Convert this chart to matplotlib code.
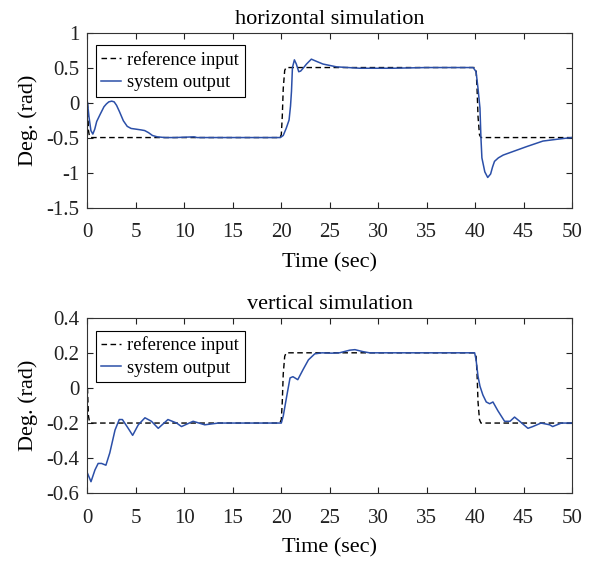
import matplotlib
matplotlib.use("Agg")
import matplotlib.pyplot as plt

# horizontal simulation
h_ref_t = [0, 0.05, 0.1, 0.2, 0.3, 19.85, 20.0, 20.1, 20.2, 20.35, 20.5, 39.95, 40.1, 40.2, 40.3, 40.45, 40.6, 50]
h_ref_y = [0, -0.2, -0.4, -0.48, -0.5, -0.5, -0.46, -0.2, 0.2, 0.46, 0.5, 0.5, 0.46, 0.2, -0.2, -0.46, -0.5, -0.5]
h_out_t = [0, 0.15, 0.35, 0.55, 0.75, 0.95, 1.3, 1.7, 1.95, 2.2, 2.5, 2.75, 3.0, 3.3, 3.7, 4.1, 4.5,
           5.0, 5.5, 5.9, 6.3, 6.7, 7.2, 8.0, 9.0, 11.0, 11.3, 15.0, 19.9, 20.2, 20.5, 20.8, 20.95,
           21.05, 21.15, 21.35, 21.55, 21.8, 22.0, 22.25, 22.6, 23.1, 23.6, 24.3, 25.7, 28.1, 31.5,
           35.0, 39.8, 40.1, 40.3, 40.5, 40.6, 40.7, 41.0, 41.3, 41.6, 41.8, 42.0, 42.4, 42.9, 43.9,
           45.3, 47.0, 48.7, 50]
h_out_y = [0, -0.2, -0.40, -0.45, -0.38, -0.27, -0.17, -0.06, -0.02, 0.01, 0.02, 0.01, -0.04, -0.13,
           -0.26, -0.34, -0.37, -0.38, -0.39, -0.40, -0.43, -0.47, -0.49, -0.50, -0.50, -0.49, -0.50,
           -0.50, -0.50, -0.47, -0.37, -0.25, -0.05, 0.16, 0.50, 0.61, 0.55, 0.44, 0.45, 0.49, 0.55,
           0.62, 0.59, 0.55, 0.51, 0.49, 0.49, 0.50, 0.50, 0.44, 0.2, -0.08, -0.5, -0.79, -0.99,
           -1.07, -1.02, -0.92, -0.84, -0.79, -0.75, -0.70, -0.63, -0.55, -0.52, -0.50]

# vertical simulation
v_ref_t = [0, 0.05, 0.1, 0.2, 0.3, 19.85, 20.0, 20.1, 20.2, 20.35, 20.5, 39.95, 40.1, 40.2, 40.3, 40.45, 40.6, 50]
v_ref_y = [0, -0.08, -0.16, -0.19, -0.2, -0.2, -0.18, -0.08, 0.08, 0.18, 0.2, 0.2, 0.18, 0.08, -0.08, -0.18, -0.2, -0.2]
v_out_t = [0, 0.36, 0.77, 1.1, 1.45, 1.9, 2.3, 2.84, 3.28, 3.6, 4.2, 4.66, 5.24, 5.93, 6.6, 7.3, 8.3,
           9.2, 9.7, 10.9, 12.1, 13.5, 20.0, 20.2, 20.55, 20.9, 21.2, 21.7, 22.25, 22.8, 23.45, 24.2,
           25.2, 26.0, 27.06, 27.6, 28.4, 29.1, 39.95, 40.1, 40.3, 40.5, 40.8, 41.15, 41.5, 41.84,
           42.35, 43.04, 43.6, 44.07, 44.6, 45.45, 45.95, 46.8, 47.7, 48.0, 48.9, 50]
v_out_y = [-0.486, -0.534, -0.467, -0.43, -0.43, -0.44, -0.37, -0.24, -0.18, -0.18, -0.23, -0.27,
           -0.21, -0.17, -0.19, -0.23, -0.18, -0.20, -0.22, -0.19, -0.21, -0.20, -0.20, -0.16, -0.05,
           0.057, 0.064, 0.047, 0.105, 0.16, 0.194, 0.2, 0.198, 0.2, 0.215, 0.218, 0.207, 0.2, 0.2,
           0.16, 0.066, 0.01, -0.04, -0.08, -0.09, -0.08, -0.13, -0.19, -0.19, -0.166, -0.19, -0.23,
           -0.22, -0.20, -0.21, -0.22, -0.20, -0.20]

x_ticks = [0, 5, 10, 15, 20, 25, 30, 35, 40, 45, 50]
h_yticks = [-1.5, -1, -0.5, 0, 0.5, 1]
h_ylabels = ["-1.5", "-1", "-0.5", "0", "0.5", "1"]
v_yticks = [-0.6, -0.4, -0.2, 0, 0.2, 0.4]
v_ylabels = ["-0.6", "-0.4", "-0.2", "0", "0.2", "0.4"]

plt.rcParams['font.family'] = ['Liberation Serif', 'DejaVu Serif']

blue = '#2b4fa8'
fig = plt.figure(figsize=(5.94, 5.61), dpi=100)
ax1 = fig.add_axes([0.1473, 0.630, 0.8157, 0.312])
ax2 = fig.add_axes([0.1473, 0.1207, 0.8157, 0.313])

panels = [
    (ax1, h_ref_t, h_ref_y, h_out_t, h_out_y, h_yticks, h_ylabels, (-1.5, 1), "horizontal simulation"),
    (ax2, v_ref_t, v_ref_y, v_out_t, v_out_y, v_yticks, v_ylabels, (-0.6, 0.4), "vertical simulation"),
]

for ax, rt, ry, ot, oy, yt, yl, ylim, title in panels:
    ax.plot(rt, ry, '--', color='black', lw=1.0, dashes=(4, 2.5), label='reference input')
    ax.plot(ot, oy, '-', color=blue, lw=1.1, label='system output')
    ax.set_xlim(0, 50)
    ax.set_ylim(*ylim)
    ax.set_xticks(x_ticks)
    ax.set_yticks(yt)
    ax.set_yticklabels(yl)
    ax.tick_params(direction='in', top=True, right=True, length=4, width=0.8,
                   labelsize=15, colors='#222222')
    ax.tick_params(axis='x', pad=11)
    ax.tick_params(axis='y', pad=6)
    for s in ax.spines.values():
        s.set_linewidth(0.8)
        s.set_color('#333333')
    ax.set_xlabel('Time (sec)', labelpad=8, fontsize=16)
    ax.set_ylabel('Deg. (rad)', labelpad=6, fontsize=16)
    ax.set_title(title, pad=6, fontsize=16)
    leg = ax.legend(loc='upper left', fontsize=13.3, handlelength=1.08, handletextpad=0.32,
                    borderpad=0.3, labelspacing=0.3, fancybox=False, framealpha=1,
                    edgecolor='black', bbox_to_anchor=(0.017, 0.926), borderaxespad=0)
    leg.get_frame().set_linewidth(0.8)

fig.savefig('out.png', dpi=100)
